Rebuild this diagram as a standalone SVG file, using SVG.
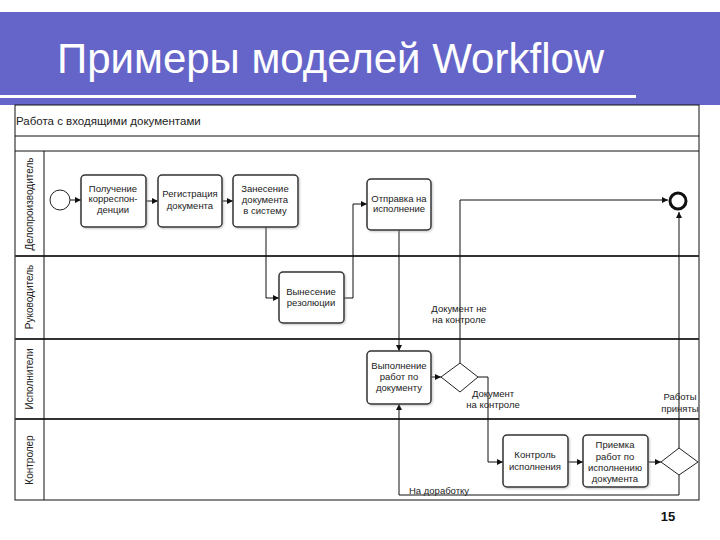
<svg xmlns="http://www.w3.org/2000/svg" width="720" height="540" viewBox="0 0 720 540">
<defs>
<marker id="ar" viewBox="0 0 8 8" refX="8" refY="4" markerWidth="6" markerHeight="6" orient="auto" markerUnits="userSpaceOnUse">
<path d="M0,0 L8,4 L0,8 z" fill="#111"/>
</marker>
<filter id="sh" x="-10%" y="-10%" width="130%" height="130%">
<feDropShadow dx="1" dy="1" stdDeviation="0.8" flood-color="#888" flood-opacity="0.5"/>
</filter>
</defs>
<style>
.task{fill:#fff;stroke:#333;stroke-width:1.5;filter:url(#sh)}
.t{font-family:"Liberation Sans",Arial,sans-serif;font-size:9.5px;fill:#222;text-anchor:middle}
.lbl{font-family:"Liberation Sans",Arial,sans-serif;font-size:9.5px;fill:#222}
.lane{font-family:"Liberation Sans",Arial,sans-serif;font-size:10px;fill:#222;text-anchor:middle}
.c{fill:none;stroke:#111;stroke-width:1}
.ln{stroke:#333;stroke-width:2}
.thin{stroke:#111;stroke-width:1}
</style>
<rect x="0" y="0" width="720" height="540" fill="#fff"/>
<g id="title">
<rect x="0" y="12" width="720" height="93" fill="#6565c9"/>
<rect x="0" y="95" width="636" height="3" fill="#fff"/>
<text x="57" y="73" font-family="Liberation Sans,Arial,sans-serif" font-size="42" fill="#fff">Примеры моделей Workflow</text>
</g>
<g id="pool">
<rect x="15" y="105" width="684" height="395" fill="#fff" stroke="#111" stroke-width="1"/>
<line class="thin" x1="15" y1="136" x2="699" y2="136"/>
<line class="thin" x1="15" y1="151" x2="699" y2="151"/>
<line class="ln" x1="15" y1="256" x2="699" y2="256"/>
<line class="ln" x1="15" y1="339" x2="699" y2="339"/>
<line class="ln" x1="15" y1="419" x2="699" y2="419"/>
<line class="thin" x1="44" y1="151" x2="44" y2="500"/>
<text x="16" y="125" font-family="Liberation Sans,Arial,sans-serif" font-size="11.5" fill="#222">Работа с входящими документами</text>
<text class="lane" transform="translate(33,204) rotate(-90)">Делопроизводитель</text>
<text class="lane" transform="translate(33,297) rotate(-90)">Руководитель</text>
<text class="lane" transform="translate(33,379) rotate(-90)">Исполнители</text>
<text class="lane" transform="translate(33,460) rotate(-90)">Контролер</text>
</g>
<g id="connectors">
<path class="c" d="M70,200 H81" marker-end="url(#ar)"/>
<path class="c" d="M146,201 H158" marker-end="url(#ar)"/>
<path class="c" d="M222,201 H233" marker-end="url(#ar)"/>
<path class="c" d="M266,227 V298 H279" marker-end="url(#ar)"/>
<path class="c" d="M344,298 H353 V204 H367" marker-end="url(#ar)"/>
<path class="c" d="M399,230 V351" marker-end="url(#ar)"/>
<path class="c" d="M431,377 H441" marker-end="url(#ar)"/>
<path class="c" d="M460,363 V200 H668" marker-end="url(#ar)"/>
<path class="c" d="M478,377 H488 V462 H503" marker-end="url(#ar)"/>
<path class="c" d="M568,462 H583" marker-end="url(#ar)"/>
<path class="c" d="M648,462 H661" marker-end="url(#ar)"/>
<path class="c" d="M679,448 V212" marker-end="url(#ar)"/>
<path class="c" d="M679,475 V495 H399 V404" marker-end="url(#ar)"/>
<text class="t" x="459" y="312">Документ не</text>
<text class="t" x="459" y="323">на контроле</text>
<text class="t" x="493" y="397">Документ</text>
<text class="t" x="493" y="408">на контроле</text>
<text class="t" x="680" y="400">Работы</text>
<text class="t" x="680" y="412">приняты</text>
<rect x="407" y="486" width="64" height="8" fill="#fff"/>
<text class="lbl" x="409" y="494">На доработку</text>
</g>
<g id="start"><circle cx="60" cy="200" r="10" fill="#fff" stroke="#222" stroke-width="1"/></g>
<g id="end"><circle cx="678" cy="201" r="8" fill="#fff" stroke="#111" stroke-width="3"/></g>
<g id="task1"><rect class="task" x="81" y="175" width="65" height="52" rx="4"/>
<text class="t" x="113" y="192">Получение</text><text class="t" x="113" y="202">корреспон-</text><text class="t" x="113" y="213">денции</text></g>
<g id="task2"><rect class="task" x="158" y="175" width="64" height="52" rx="4"/>
<text class="t" x="190" y="197">Регистрация</text><text class="t" x="190" y="209">документа</text></g>
<g id="task3"><rect class="task" x="233" y="175" width="65" height="52" rx="4"/>
<text class="t" x="265" y="192">Занесение</text><text class="t" x="265" y="203">документа</text><text class="t" x="265" y="214">в систему</text></g>
<g id="task4"><rect class="task" x="367" y="179" width="64" height="51" rx="4"/>
<text class="t" x="399" y="202">Отправка на</text><text class="t" x="399" y="212">исполнение</text></g>
<g id="task5"><rect class="task" x="279" y="272" width="65" height="51" rx="4"/>
<text class="t" x="311" y="295">Вынесение</text><text class="t" x="311" y="306">резолюции</text></g>
<g id="task6"><rect class="task" x="367" y="351" width="64" height="53" rx="4"/>
<text class="t" x="399" y="369">Выполнение</text><text class="t" x="399" y="380">работ по</text><text class="t" x="399" y="391">документу</text></g>
<g id="gw1"><path d="M441,377 L460,363 L478,377 L460,392 z" fill="#fff" stroke="#222" stroke-width="1"/></g>
<g id="task7"><rect class="task" x="503" y="435" width="65" height="52" rx="4"/>
<text class="t" x="535" y="458">Контроль</text><text class="t" x="535" y="470">исполнения</text></g>
<g id="task8"><rect class="task" x="583" y="435" width="65" height="52" rx="4"/>
<text class="t" x="615" y="448">Приемка</text><text class="t" x="615" y="460">работ по</text><text class="t" x="615" y="471">исполнению</text><text class="t" x="615" y="482">документа</text></g>
<g id="gw2"><path d="M661,462 L679,448 L698,462 L679,475 z" fill="#fff" stroke="#222" stroke-width="1"/></g>
<text x="668" y="521" font-family="Liberation Sans,Arial,sans-serif" font-size="13" font-weight="bold" fill="#111" text-anchor="middle">15</text>
</svg>
